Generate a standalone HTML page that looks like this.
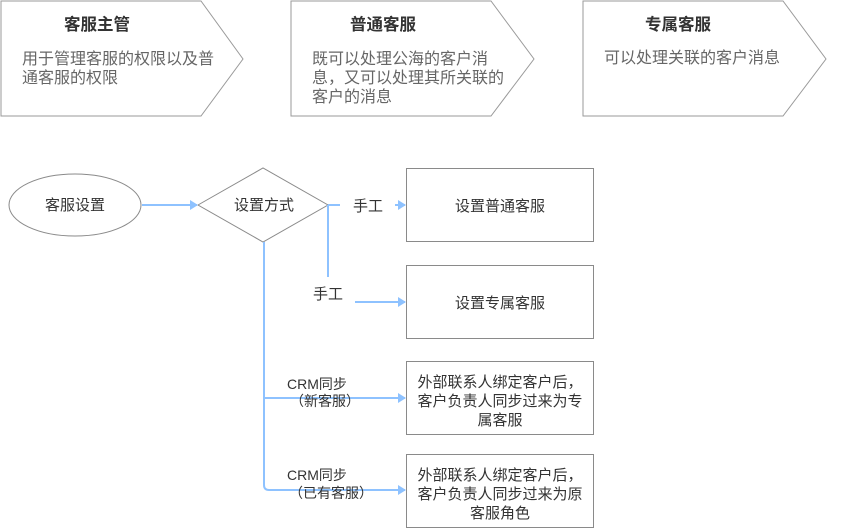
<!DOCTYPE html>
<html><head><meta charset="utf-8"><style>
html,body{margin:0;padding:0;background:#fff;}
svg{display:block;font-family:"Liberation Sans","Noto Sans CJK SC",sans-serif;}
</style></head><body>
<svg width="865" height="528" viewBox="0 0 865 528" xmlns="http://www.w3.org/2000/svg">
<defs>
<marker id="a" markerWidth="8" markerHeight="10" refX="7" refY="5" orient="auto" markerUnits="userSpaceOnUse">
<path d="M0,0 L8,5 L0,10 Z" fill="#8ec2ff"/>
</marker>
</defs>
<g fill="#fff" stroke="#9a9a9a" stroke-width="1">
<path d="M1,1 H201 L243,59 L201,116 H1 Z"/>
<path d="M291,1 H491 L534,59 L491,116 H291 Z"/>
<path d="M583,1 H783 L826,59 L783,116 H583 Z"/>
</g>
<g font-size="16.5" font-weight="bold" fill="#333" text-anchor="middle">
<text x="97" y="30">客服主管</text>
<text x="383" y="30">普通客服</text>
<text x="678" y="30">专属客服</text>
</g>
<g font-size="16" fill="#666">
<text x="22" y="64">用于管理客服的权限以及普</text>
<text x="22" y="83">通客服的权限</text>
<text x="312" y="64">既可以处理公海的客户消</text>
<text x="312" y="83">息，又可以处理其所关联的</text>
<text x="312" y="102">客户的消息</text>
<text x="604" y="63">可以处理关联的客户消息</text>
</g>
<g fill="#fff" stroke="#8a8a8a" stroke-width="1">
<ellipse cx="75" cy="205" rx="66" ry="31"/>
<path d="M198,205 L263,168 L328,205 L263,242 Z"/>
<rect x="406.5" y="168.5" width="187" height="73"/>
<rect x="406.5" y="265.5" width="187" height="73"/>
<rect x="406.5" y="361.5" width="187" height="73"/>
<rect x="406.5" y="454.5" width="187" height="73"/>
</g>
<g stroke="#8ec2ff" stroke-width="2" fill="none">
<line x1="142" y1="205" x2="197" y2="205" marker-end="url(#a)"/>
<line x1="328" y1="205" x2="340" y2="205"/>
<line x1="395" y1="205" x2="405" y2="205" marker-end="url(#a)"/>
<line x1="328" y1="205" x2="328" y2="277"/>
<line x1="355" y1="302" x2="405" y2="302" marker-end="url(#a)"/>
<path d="M264,242 V398 M264,398 H405" marker-end="url(#a)"/>
<path d="M264,398 V485 Q264,490 269,490 H405" marker-end="url(#a)"/>
</g>
<g font-size="15" fill="#333" text-anchor="middle">
<text x="75" y="210">客服设置</text>
<text x="264" y="210">设置方式</text>
<text x="368" y="211">手工</text>
<text x="328" y="299">手工</text>
<text x="500" y="211">设置普通客服</text>
<text x="500" y="308">设置专属客服</text>
<text x="500" y="387">外部联系人绑定客户后，</text>
<text x="500" y="406">客户负责人同步过来为专</text>
<text x="500" y="425">属客服</text>
<text x="500" y="480">外部联系人绑定客户后，</text>
<text x="500" y="499">客户负责人同步过来为原</text>
<text x="500" y="518">客服角色</text>
</g>
<g font-size="14" fill="#333">
<text x="287" y="389">CRM同步</text>
<text x="290" y="406">（新客服）</text>
<text x="287" y="480">CRM同步</text>
<text x="289" y="498">（已有客服）</text>
</g>
</svg>
</body></html>
